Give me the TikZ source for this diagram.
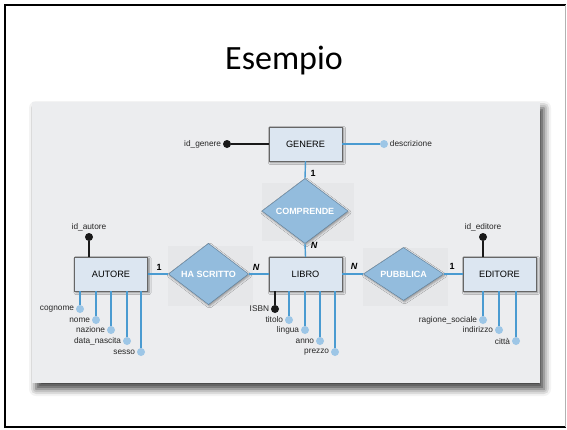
\documentclass[tikz,border=0pt]{standalone}
\usepackage{fontspec}
\setmainfont{Liberation Sans}
\newfontfamily\titlefont{Carlito}
\usetikzlibrary{shapes.geometric,shadows.blur}
\definecolor{entfill}{HTML}{DCE6F1}
\definecolor{relfill}{HTML}{93BCDD}
\definecolor{reldraw}{HTML}{5D7E99}
\definecolor{linkblue}{HTML}{4A9BD1}
\definecolor{attrdot}{HTML}{9DC6E6}
\definecolor{panelgray}{HTML}{ECEDEF}
\definecolor{relback}{HTML}{E6E7E9}

\begin{document}
\begin{tikzpicture}[x=1pt,y=-1pt]
\tikzstyle{entity}=[draw=black!60,fill=entfill,minimum width=73pt,minimum height=34pt,inner sep=0pt,font=\fontsize{9.2}{10}\selectfont,blur shadow={shadow xshift=1.5pt,shadow yshift=-1.5pt,shadow blur steps=4,shadow opacity=50}]
\tikzstyle{relation}=[diamond,draw=reldraw,fill=relfill,text=white,inner sep=0pt,minimum width=80pt,minimum height=52pt,font=\fontsize{9}{10}\selectfont\bfseries,blur shadow={shadow xshift=1pt,shadow yshift=-1.5pt,shadow blur steps=3,shadow opacity=40}]
\tikzstyle{attr}=[circle,fill=attrdot,minimum size=8pt,inner sep=0pt]
\tikzstyle{keyattr}=[circle,fill=black!90,minimum size=8pt,inner sep=0pt]
\tikzstyle{attrtext}=[font=\fontsize{8.3}{9}\selectfont,text=black!85,inner sep=1.5pt]
\tikzstyle{card}=[font=\fontsize{9}{10}\selectfont\bfseries]
\tikzstyle{link}=[draw=linkblue,line width=1.4pt]
\tikzstyle{keylink}=[draw=black!90,line width=1.4pt]
\useasboundingbox (0,0) rectangle (567,429);

% slide
\draw[line width=2.5pt] (5,428) -- (5,5) -- (566,5);
\draw[line width=2pt] (5,427) -- (566,427);
\draw[black!30,line width=0.6pt] (565.5,5) -- (565.5,427);
\node[font=\titlefont\fontsize{34}{36}\selectfont] (title) at (284,61) {Esempio};

% panel
\fill[panelgray,blur shadow={shadow xshift=4pt,shadow yshift=-6pt,shadow blur radius=7pt,shadow opacity=75}] (32,102) rectangle (540,383);
\fill[relback] (262,183) rectangle (354,241);
\fill[relback] (168,246) rectangle (253,306);
\fill[relback] (363,248) rectangle (448,306);

% entities
\node[entity] (genere) at (305.5,144) {GENERE};
\node[entity] (autore) at (111,274) {AUTORE};
\node[entity] (libro) at (305.5,274) {LIBRO};
\node[entity] (editore) at (499.5,274) {EDITORE};

% relationships
\node[relation,minimum width=86pt,minimum height=54pt] (comprende) at (305,211) {COMPRENDE};
\node[relation] (hascritto) at (208.5,274) {HA SCRITTO};
\node[relation] (pubblica) at (403.5,274) {PUBBLICA};

\draw[link] (genere.south) -- (comprende.north);
\draw[link] (comprende.south) -- (libro.north);
\draw[link] (autore.east) -- (hascritto.west);
\draw[link] (hascritto.east) -- (libro.west);
\draw[link] (libro.east) -- (pubblica.west);
\draw[link] (pubblica.east) -- (editore.west);

\node[card] (c1) at (313,173) {1};
\node[card] (c2) at (314,245) {\itshape N};
\node[card] (c3) at (159,267) {1};
\node[card] (c4) at (256,267) {\itshape N};
\node[card] (c5) at (354,266) {\itshape N};
\node[card] (c6) at (452,266) {1};

% attributes GENERE
\node[keyattr,label={[attrtext]left:id\_genere}] (idgenere) at (227,144) {};
\node[attr,label={[attrtext]right:descrizione}] (descrizione) at (384,144) {};
\draw[keylink] (idgenere) -- (genere.west);
\draw[link] (genere.east) -- (descrizione);

% attributes AUTORE
\node[keyattr,label={[attrtext]above:id\_autore}] (idautore) at (89,237) {};
\node[attr,label={[attrtext]left:cognome}] (cognome) at (80,309) {};
\node[attr,label={[attrtext]left:nome}] (nome) at (96,320) {};
\node[attr,label={[attrtext]left:nazione}] (nazione) at (111,330) {};
\node[attr,label={[attrtext]left:data\_nascita}] (nascita) at (127,341) {};
\node[attr,label={[attrtext]left:sesso}] (sesso) at (141,352) {};
\draw[keylink] (idautore) -- (idautore |- autore.north);
\foreach \a in {cognome,nome,nazione,nascita,sesso}
  \draw[link] (autore.south -| \a) -- (\a);

% attributes LIBRO
\node[keyattr,label={[attrtext]left:ISBN}] (isbn) at (275,309) {};
\node[attr,label={[attrtext]left:titolo}] (titolo) at (289,320) {};
\node[attr,label={[attrtext]left:lingua}] (lingua) at (305,330) {};
\node[attr,label={[attrtext]left:anno}] (anno) at (320,341) {};
\node[attr,label={[attrtext]left:prezzo}] (prezzo) at (335,352) {};
\draw[keylink] (libro.south -| isbn) -- (isbn);
\foreach \a in {titolo,lingua,anno,prezzo}
  \draw[link] (libro.south -| \a) -- (\a);

% attributes EDITORE
\node[keyattr,label={[attrtext]above:id\_editore}] (ideditore) at (483,237) {};
\node[attr,label={[attrtext]left:ragione\_sociale}] (ragione) at (483,320) {};
\node[attr,label={[attrtext]left:indirizzo}] (indirizzo) at (499,330) {};
\node[attr,label={[attrtext]left:città}] (citta) at (516,341) {};
\draw[keylink] (ideditore) -- (ideditore |- editore.north);
\foreach \a in {ragione,indirizzo,citta}
  \draw[link] (editore.south -| \a) -- (\a);
\end{tikzpicture}
\end{document}
